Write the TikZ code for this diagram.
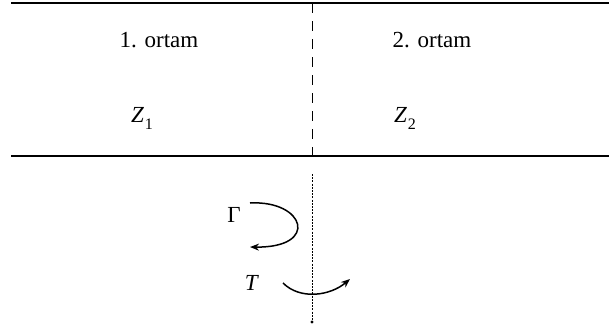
\documentclass[tikz,border=0pt]{standalone}
\usepackage{fontspec}
\setmainfont{Liberation Serif}
\usetikzlibrary{arrows.meta}

\newcommand{\lowsub}[1]{\kern1pt\raisebox{-7pt}{\fontsize{16}{16}\selectfont #1}}

\begin{document}
\begin{tikzpicture}[x=1pt, y=-1pt,
    medium/.style={font=\fontsize{23}{27}\selectfont, anchor=base, inner sep=0pt},
    turn/.style={-{Stealth[length=9pt, width=7pt]}, line width=1.5pt}]
    \useasboundingbox (0,0) rectangle (609,327);
    % Boundary lines
    \coordinate (topL) at (11,3);
    \coordinate (topR) at (609,3);
    \coordinate (botL) at (11,156);
    \coordinate (botR) at (609,156);
    \draw[line width=1.4pt] (topL) -- (topR);
    \draw[line width=1.4pt] (botL) -- (botR);
    % Normal line
    \coordinate (nTop) at (312,3);
    \coordinate (nMid) at (312,156);
    \coordinate (nA) at (312,174);
    \coordinate (nB) at (312,322);
    \draw[line width=1pt, dash pattern=on 10pt off 8pt] (nTop) -- (nMid);
    \draw[line width=0.8pt, dash pattern=on 2pt off 1.2pt] (nA) -- (nB);
    \fill (nB) circle (1.6pt);
    % Media
    \node[medium] (med1) at (159,47) {1. ortam};
    \node[medium] (med2) at (432,47) {2. ortam};
    \node[medium] (z1) at (142,122) {\textit{Z}\lowsub{1}};
    \node[medium] (z2) at (405,122) {\textit{Z}\lowsub{2}};
    % Reflection and transmission
    \node[medium] (refl) at (234,222) {Γ};
    \node[medium] (trans) at (252,290) {\textit{T}};
    \coordinate (gA) at (250,203);
    \coordinate (gB) at (250,247);
    \coordinate (tA) at (283,283);
    \coordinate (tB) at (350,279);
    \draw[turn] (gA) .. controls (305,200) and (320,248) .. (gB);
    \draw[turn] (tA) .. controls (300,300) and (330,296) .. (tB);
\end{tikzpicture}
\end{document}
